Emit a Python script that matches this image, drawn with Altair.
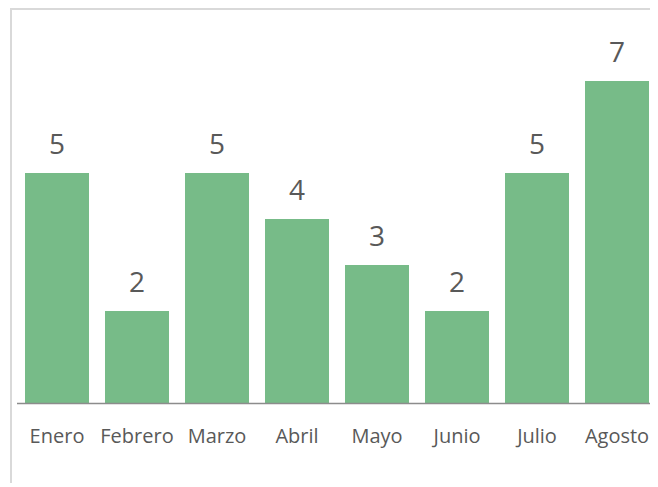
import altair as alt
import pandas as pd

months = ["Enero", "Febrero", "Marzo", "Abril", "Mayo", "Junio", "Julio", "Agosto"]
values = [5, 2, 5, 4, 3, 2, 5, 7]

df = pd.DataFrame({"mes": months, "valor": values})

FONT = "Open Sans"
TXT = "#595959"

base = alt.Chart(df).encode(
    x=alt.X("mes:N", sort=months,
            scale=alt.Scale(paddingInner=0.2, paddingOuter=0.1, range=[0, 640]),
            axis=alt.Axis(title=None, labelAngle=0, ticks=False, tickSize=0,
                          labelPadding=39, labelBaseline="alphabetic",
                          labelFont=FONT, labelFontSize=20, labelColor=TXT,
                          domain=False, grid=False)),
    y=alt.Y("valor:Q", scale=alt.Scale(domain=[0, 8]), axis=None),
)

bars = base.mark_bar(color="#77BB88")
labels = base.mark_text(baseline="alphabetic", dy=-19, font=FONT, fontSize=28, color=TXT).encode(
    text="valor:Q")

one = pd.DataFrame({"a": [0]})
vline = alt.Chart(one).mark_rule(color="#D9D9D9", strokeWidth=2).encode(
    x=alt.value(-6), y=alt.value(-26), y2=alt.value(500))
hline = alt.Chart(one).mark_rule(color="#D9D9D9", strokeWidth=2).encode(
    x=alt.value(-7), x2=alt.value(700), y=alt.value(-26))
baseline = alt.Chart(one).mark_rule(color="#8C8C8C", strokeWidth=1.6).encode(
    x=alt.value(0), x2=alt.value(700), y=alt.value(368.5))

chart = alt.layer(vline, hline, bars, labels, baseline).properties(
    width=633, height=368,
    autosize=alt.AutoSizeParams(type="none"),
    padding={"left": 9, "top": 27, "right": 0, "bottom": 80},
).configure_view(stroke=None)

chart.save("out.html", embed_options={"renderer": "svg", "actions": False})
